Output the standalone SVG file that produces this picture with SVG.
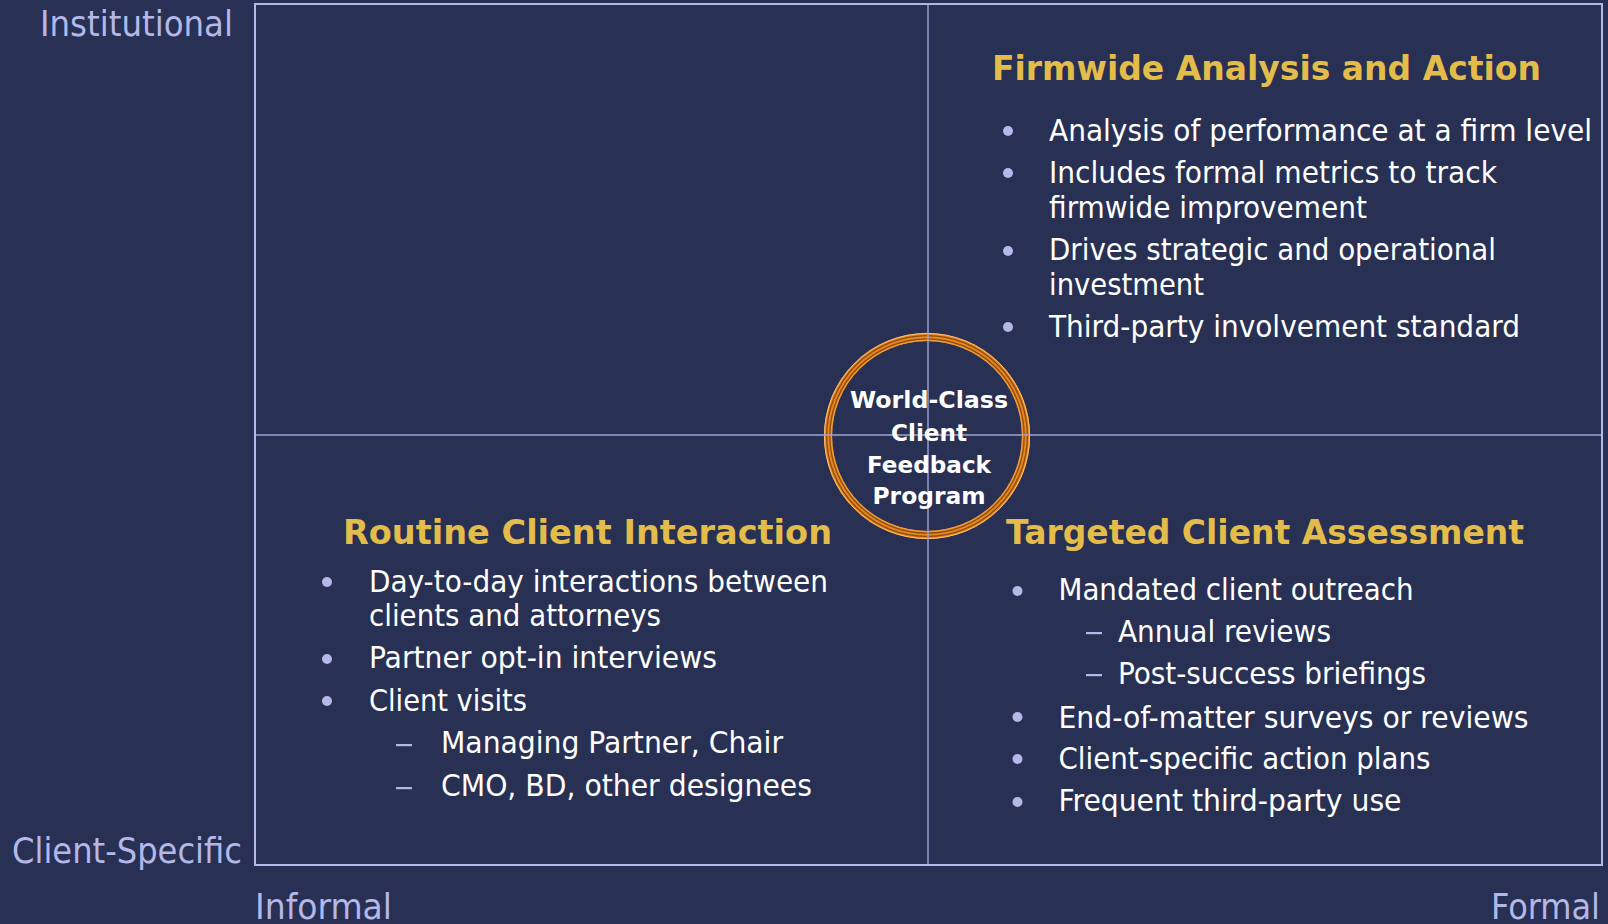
<svg xmlns="http://www.w3.org/2000/svg" width="1608" height="924" viewBox="0 0 1608 924">
  <style>
    .axis { font-family: "DejaVu Sans Condensed", "DejaVu Sans", sans-serif; font-stretch: condensed; font-size: 36px; fill: #B3B8E8; }
    .head { font-family: "DejaVu Sans", "Liberation Sans", sans-serif; font-weight: bold; font-size: 34px; fill: #E3BC4A; }
    .body { font-family: "DejaVu Sans Condensed", "DejaVu Sans", sans-serif; font-stretch: condensed; font-size: 30px; fill: #FFFFFF; }
    .hub { font-family: "DejaVu Sans", "Liberation Sans", sans-serif; font-weight: bold; font-size: 23.5px; fill: #FFFFFF; text-anchor: middle; }
    .dot { fill: #B3B8E8; }
    .dash { fill: #B3B8E8; }
    .frame { fill: none; stroke: #B3B8E8; stroke-width: 2; }
    .grid { stroke: #9EA4D6; stroke-width: 1.4; }
  </style>

  <!-- background -->
  <rect x="0" y="0" width="1608" height="924" fill="#283054"/>

  <!-- axis labels -->
  <g id="axis-labels">
    <text class="axis" x="40" y="36" textLength="193" lengthAdjust="spacingAndGlyphs">Institutional</text>
    <text class="axis" x="12" y="863" textLength="230" lengthAdjust="spacingAndGlyphs">Client-Specific</text>
    <text class="axis" x="255" y="919" textLength="137" lengthAdjust="spacingAndGlyphs">Informal</text>
    <text class="axis" x="1491" y="919" textLength="109" lengthAdjust="spacingAndGlyphs">Formal</text>
  </g>

  <!-- hub ring (drawn under the quadrant dividers) -->
  <g id="hub-ring" fill="none">
    <circle cx="927" cy="436" r="99" stroke="#E8881C" stroke-width="8"/>
    <circle cx="927" cy="436" r="102.6" stroke="#FDBE72" stroke-width="1"/>
    <circle cx="927" cy="436" r="100.4" stroke="#8A4A12" stroke-width="1.3"/>
    <circle cx="927" cy="436" r="97.2" stroke="#8A4A12" stroke-width="1.2"/>
    <circle cx="927" cy="436" r="95.4" stroke="#F6A445" stroke-width="0.9"/>
  </g>

  <!-- quadrant frame and dividers -->
  <g id="connectors">
    <rect class="frame" x="255" y="4" width="1347" height="861"/>
    <line class="grid" x1="928" y1="5" x2="928" y2="864"/>
    <line class="grid" x1="256" y1="435" x2="1601" y2="435"/>
  </g>

  <!-- centre hub label -->
  <g id="hub">
    <text class="hub" x="929" y="408" textLength="158" lengthAdjust="spacingAndGlyphs">World-Class</text>
    <text class="hub" x="929" y="440.5" textLength="76" lengthAdjust="spacingAndGlyphs">Client</text>
    <text class="hub" x="929" y="472.5" textLength="124" lengthAdjust="spacingAndGlyphs">Feedback</text>
    <text class="hub" x="929" y="504" textLength="113" lengthAdjust="spacingAndGlyphs">Program</text>
  </g>

  <!-- top-right quadrant -->
  <g id="firmwide">
    <text class="head" x="992" y="80" textLength="549" lengthAdjust="spacingAndGlyphs">Firmwide Analysis and Action</text>
    <circle class="dot" cx="1008" cy="131" r="5"/>
    <circle class="dot" cx="1008" cy="173" r="5"/>
    <circle class="dot" cx="1008" cy="251" r="5"/>
    <circle class="dot" cx="1008" cy="327" r="5"/>
    <text class="body" x="1049" y="141" textLength="543" lengthAdjust="spacingAndGlyphs">Analysis of performance at a firm level</text>
    <text class="body" x="1049" y="183" textLength="448" lengthAdjust="spacingAndGlyphs">Includes formal metrics to track</text>
    <text class="body" x="1049" y="218" textLength="318" lengthAdjust="spacingAndGlyphs">firmwide improvement</text>
    <text class="body" x="1049" y="260" textLength="447" lengthAdjust="spacingAndGlyphs">Drives strategic and operational</text>
    <text class="body" x="1049" y="295" textLength="155" lengthAdjust="spacingAndGlyphs">investment</text>
    <text class="body" x="1049" y="337" textLength="471" lengthAdjust="spacingAndGlyphs">Third-party involvement standard</text>
  </g>

  <!-- bottom-left quadrant -->
  <g id="routine">
    <text class="head" x="343" y="544" textLength="489" lengthAdjust="spacingAndGlyphs">Routine Client Interaction</text>
    <circle class="dot" cx="327" cy="582" r="5"/>
    <circle class="dot" cx="327" cy="659" r="5"/>
    <circle class="dot" cx="327" cy="701" r="5"/>
    <text class="body" x="369" y="592" textLength="459" lengthAdjust="spacingAndGlyphs">Day-to-day interactions between</text>
    <text class="body" x="369" y="626" textLength="292" lengthAdjust="spacingAndGlyphs">clients and attorneys</text>
    <text class="body" x="369" y="668" textLength="348" lengthAdjust="spacingAndGlyphs">Partner opt-in interviews</text>
    <text class="body" x="369" y="711" textLength="158" lengthAdjust="spacingAndGlyphs">Client visits</text>
    <rect class="dash" x="396" y="744" width="16" height="2.2"/>
    <text class="body" x="441" y="753" textLength="342" lengthAdjust="spacingAndGlyphs">Managing Partner, Chair</text>
    <rect class="dash" x="396" y="787" width="16" height="2.2"/>
    <text class="body" x="441" y="796" textLength="371" lengthAdjust="spacingAndGlyphs">CMO, BD, other designees</text>
  </g>

  <!-- bottom-right quadrant -->
  <g id="targeted">
    <text class="head" x="1006" y="544" textLength="518" lengthAdjust="spacingAndGlyphs">Targeted Client Assessment</text>
    <circle class="dot" cx="1017.5" cy="591" r="5"/>
    <circle class="dot" cx="1017.5" cy="717" r="5"/>
    <circle class="dot" cx="1017.5" cy="759" r="5"/>
    <circle class="dot" cx="1017.5" cy="802" r="5"/>
    <text class="body" x="1058.5" y="600" textLength="355" lengthAdjust="spacingAndGlyphs">Mandated client outreach</text>
    <rect class="dash" x="1086" y="632" width="16" height="2.2"/>
    <text class="body" x="1118" y="642" textLength="213" lengthAdjust="spacingAndGlyphs">Annual reviews</text>
    <rect class="dash" x="1086" y="674" width="16" height="2.2"/>
    <text class="body" x="1118" y="684" textLength="308" lengthAdjust="spacingAndGlyphs">Post-success briefings</text>
    <text class="body" x="1058.5" y="728" textLength="470" lengthAdjust="spacingAndGlyphs">End-of-matter surveys or reviews</text>
    <text class="body" x="1058.5" y="769" textLength="372" lengthAdjust="spacingAndGlyphs">Client-specific action plans</text>
    <text class="body" x="1058.5" y="811" textLength="343" lengthAdjust="spacingAndGlyphs">Frequent third-party use</text>
  </g>
</svg>
